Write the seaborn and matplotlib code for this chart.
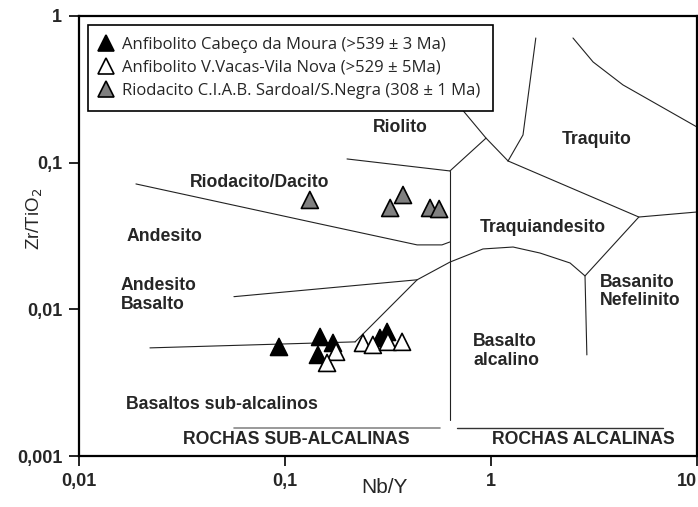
import pandas as pd
import matplotlib
matplotlib.use("Agg")
import matplotlib.pyplot as plt
from matplotlib.lines import Line2D
from matplotlib.ticker import NullLocator
import seaborn as sns

# --- amostras (Nb/Y, Zr/TiO2) ---
grupos = [
    "Anfibolito Cabeço da Moura (>539 ± 3 Ma)",
    "Anfibolito V.Vacas-Vila Nova (>529 ± 5Ma)",
    "Riodacito C.I.A.B. Sardoal/S.Negra (308 ± 1 Ma)",
]
cores = ["black", "white", "#808080"]

cabeco_nby = [0.0935, 0.148, 0.1445, 0.171, 0.313, 0.289]
cabeco_zr = [0.00554, 0.00648, 0.00489, 0.0059, 0.00701, 0.00638]

vacas_nby = [0.177, 0.160, 0.239, 0.267, 0.316, 0.370]
vacas_zr = [0.00513, 0.00431, 0.0059, 0.00572, 0.0060, 0.0060]

sardoal_nby = [0.132, 0.324, 0.374, 0.506, 0.560]
sardoal_zr = [0.0557, 0.0491, 0.0602, 0.0491, 0.0483]

# --- limites dos campos (Winchester & Floyd) ---
limites = [
    ([0.0189, 0.148, 0.438, 0.578, 0.632], [0.0716, 0.0382, 0.0275, 0.0275, 0.0288]),
    ([0.200, 0.632], [0.106, 0.0878]),
    ([0.632, 0.632], [0.0878, 0.00176]),
    ([0.632, 0.946], [0.0878, 0.147]),
    ([0.714, 0.946, 1.21], [0.236, 0.147, 0.1027]),
    ([1.21, 1.43, 1.65], [0.1027, 0.1545, 0.708]),
    ([1.21, 5.22, 10.0], [0.1027, 0.0426, 0.0461]),
    ([5.22, 2.86, 2.92], [0.0426, 0.0169, 0.00489]),
    ([0.219, 0.438, 0.632, 0.914, 1.28, 1.73, 2.42, 2.86],
     [0.0060, 0.0159, 0.0210, 0.0258, 0.0266, 0.0242, 0.0207, 0.0169]),
    ([0.0221, 0.219], [0.00546, 0.0060]),
    ([0.0565, 0.438], [0.0122, 0.0159]),
    ([2.50, 3.13, 4.37, 10.0], [0.708, 0.486, 0.339, 0.175]),
]
linha_subalc = ([0.0565, 0.565], [0.001555, 0.001555])
linha_alc = ([0.684, 6.84], [0.001555, 0.001555])

campos = [
    ("Riolito", 0.361, 0.175, "center"),
    ("Riodacito/Dacito", 0.0757, 0.0727, "center"),
    ("Andesito", 0.0171, 0.0312, "left"),
    ("Andesito\nBasalto", 0.0160, 0.0125, "left"),
    ("Basaltos sub-alcalinos", 0.0169, 0.00226, "left"),
    ("ROCHAS SUB-ALCALINAS", 0.114, 0.00129, "center"),
    ("ROCHAS ALCALINAS", 2.80, 0.00129, "center"),
    ("Traquito", 3.27, 0.143, "center"),
    ("Traquiandesito", 1.79, 0.0359, "center"),
    ("Basanito\nNefelinito", 3.38, 0.0133, "left"),
    ("Basalto\nalcalino", 0.818, 0.0052, "left"),
]

xticks = [0.01, 0.1, 1, 10]
xticklabels = ["0,01", "0,1", "1", "10"]
yticks = [0.001, 0.01, 0.1, 1]
yticklabels = ["0,001", "0,01", "0,1", "1"]

df = pd.concat([
    pd.DataFrame({"Nb/Y": cabeco_nby, "Zr/TiO2": cabeco_zr, "grupo": grupos[0]}),
    pd.DataFrame({"Nb/Y": vacas_nby, "Zr/TiO2": vacas_zr, "grupo": grupos[1]}),
    pd.DataFrame({"Nb/Y": sardoal_nby, "Zr/TiO2": sardoal_zr, "grupo": grupos[2]}),
])

sns.set_style("ticks")
plt.rcParams["font.family"] = ["Liberation Sans", "DejaVu Sans"]

fig = plt.figure(figsize=(6.98, 5.07), dpi=100)
ax = fig.add_axes([79 / 698, 51 / 507, 618 / 698, 440 / 507])
ax.set_xscale("log")
ax.set_yscale("log")

for xs, ys in limites:
    ax.plot(xs, ys, color="#222222", lw=0.8, zorder=1)
ax.plot(*linha_subalc, color="#888888", lw=1.2, zorder=1)
ax.plot(*linha_alc, color="#333333", lw=1.0, zorder=1)

sns.scatterplot(data=df, x="Nb/Y", y="Zr/TiO2", hue="grupo",
                palette=dict(zip(grupos, cores)), marker="^", s=150,
                edgecolor="black", linewidth=1.2, legend=False, ax=ax, zorder=3)

for txt, x, y, ha in campos:
    ax.text(x, y, txt, ha=ha, va="center", fontsize=12.7, fontweight="bold",
            linespacing=1.1, zorder=2)

ax.set_xlim(0.01, 10)
ax.set_ylim(0.001, 1)
ax.set_xticks(xticks)
ax.set_xticklabels(xticklabels, fontsize=13, fontweight="bold")
ax.get_xticklabels()[-1].set_horizontalalignment("right")
ax.set_yticks(yticks)
ax.set_yticklabels(yticklabels, fontsize=13, fontweight="bold")
ax.xaxis.set_minor_locator(NullLocator())
ax.yaxis.set_minor_locator(NullLocator())
ax.tick_params(direction="out", length=7, width=1.2, pad=5, color="black")

for sp in ax.spines.values():
    sp.set_linewidth(1.6)
    sp.set_color("black")

ax.set_xlabel("Nb/Y", fontsize=15)
ax.set_ylabel("Zr/TiO$_2$", fontsize=13.5)
ax.xaxis.set_label_coords(0.495, -0.05)
ax.yaxis.set_label_coords(-0.055, 0.54)

handles = [Line2D([], [], ls="none", marker="^", markersize=11, markerfacecolor=c,
                  markeredgecolor="black", markeredgewidth=1.2) for c in cores]
leg = ax.legend(handles, grupos, loc="upper left", bbox_to_anchor=(0.0146, 0.98),
                borderaxespad=0, frameon=True, fancybox=False, edgecolor="black",
                framealpha=1, handlelength=0.66, handletextpad=0.63, borderpad=0.75,
                labelspacing=0.40, prop={"family": "Open Sans", "size": 12})
leg.get_frame().set_linewidth(1.2)
leg.set_zorder(5)

fig.savefig("out.png", dpi=100)
